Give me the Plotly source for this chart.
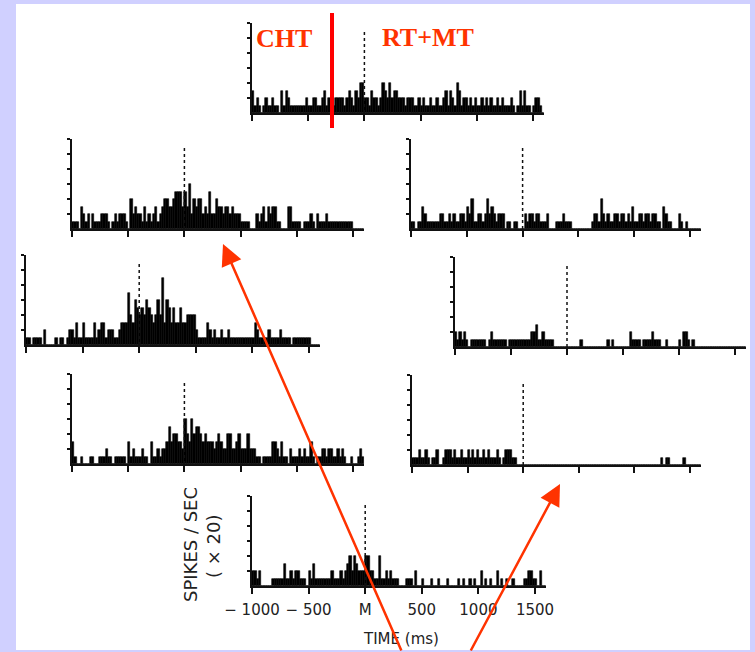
import plotly.graph_objects as go

# ---------------- data ----------------
BIN_WIDTH = 20  # ms
TIME_BINS = list(range(-1000, 1600, BIN_WIDTH))  # bin starts, 130 bins
X_TICKS = [-1000, -500, 0, 500, 1000, 1500]
X_TICK_TEXT = ["\u2212 1000", "\u2212 500", "M", "500", "1000", "1500"]
Y_TICKS = [1, 2, 3, 4, 5, 6]

# spikes/sec (x 20), one list per histogram
top_center = [
    1.5, 0.5, 1, 0.5, 0, 0.5, 1, 0.5, 0.5, 1,
    0.5, 0.5, 0, 1.5, 0.5, 1.5, 1, 0.5, 0.5, 0.5,
    0.5, 0.5, 0.5, 0.5, 1, 0.5, 0.5, 1, 1, 0.5,
    0.5, 1, 1.5, 0.5, 1, 1, 0.5, 1, 1, 1,
    1, 0.5, 1, 1.5, 1, 0.5, 1.5, 1, 2, 2,
    1, 1, 0.5, 1.5, 1, 1, 0.5, 1, 2, 1.5,
    1, 2, 1, 1.5, 1.5, 1, 1, 1, 0.5, 1,
    1, 1, 0.5, 0.5, 1, 0.5, 1, 0.5, 0.5, 1,
    0.5, 0.5, 1, 0.5, 0.5, 1, 1.5, 0.5, 1.5, 1,
    0.5, 2, 1.5, 0.5, 1, 1, 0.5, 1, 0.5, 1,
    0.5, 0.5, 1, 0.5, 1, 0.5, 1, 0.5, 0.5, 1,
    0.5, 1, 0.5, 0.5, 0.5, 1, 0.5, 0, 0.5, 1.5,
    0.5, 1.5, 0.5, 0.5, 0, 0.5, 1, 1, 0.5, 0,
]
left_row1 = [
    0.5, 0.5, 0.5, 0, 1.5, 1, 0.5, 1, 0, 1,
    0.5, 0.5, 0.5, 1, 1, 1, 0.5, 0, 0.5, 1,
    0.5, 1, 1, 1, 0.5, 0, 2, 1, 1.5, 1,
    1, 0.5, 1.5, 0.5, 1, 0.5, 1, 1.5, 0.5, 1,
    1.5, 2, 2, 1.5, 1.5, 2, 2.5, 2.5, 2.5, 1.5,
    2.5, 1.5, 3, 1, 2, 1.5, 2, 2, 1, 1.5,
    1, 2.5, 1, 1, 2, 1.5, 1.5, 1, 1.5, 1.5,
    1, 1.5, 1, 1, 1, 0.5, 0.5, 0.5, 0.5, 0,
    0, 0, 1, 0.5, 1, 1.5, 0.5, 1.5, 1, 1.5,
    1.5, 0.5, 0.5, 0, 0, 0, 1.5, 1.5, 0.5, 0.5,
    0.5, 0.5, 0, 0.5, 0.5, 0.5, 1, 0.5, 0, 1,
    0.5, 0.5, 0.5, 1, 0.5, 0.5, 0.5, 0.5, 0.5, 0.5,
    0.5, 0.5, 0.5, 0.5, 0.5, 0, 0, 0, 0, 0,
]
right_row1 = [
    0.5, 0.5, 0, 0.5, 0.5, 1.5, 1, 0.5, 0.5, 0.5,
    0.5, 0.5, 0.5, 1, 1, 0.5, 0.5, 1, 0.5, 1,
    0.5, 0.5, 1, 1, 0.5, 1.5, 1, 2, 0.5, 0.5,
    1, 1, 0.5, 1, 2, 1, 1.5, 1, 0.5, 1,
    1, 1, 0, 0.5, 0.5, 0, 0.5, 0.5, 0, 0,
    0, 1, 0.5, 1, 1, 0.5, 1, 1, 0.5, 0.5,
    0.5, 1, 0, 0, 0, 0.5, 0.5, 0.5, 1, 0.5,
    0.5, 0.5, 0, 0, 0, 0, 0, 0, 0, 0,
    0, 0.5, 1, 1, 0.5, 2, 1, 0.5, 1, 0.5,
    0.5, 1, 1, 0.5, 1, 1, 0.5, 1, 0.5, 1.5,
    0.5, 0.5, 1, 1, 0.5, 1, 1, 0.5, 1, 1,
    0.5, 0.5, 0, 1.5, 1, 0.5, 0.5, 0, 0, 0,
    1, 0.5, 0, 0.5, 0, 0, 0, 0, 0, 0,
]
left_row2 = [
    0.5, 0.5, 0, 0.5, 0.5, 0.5, 0.5, 0, 1, 0,
    0, 0, 0, 0.5, 0, 0.5, 0.5, 0, 0.5, 1,
    1, 0.5, 1.5, 0.5, 0.5, 1.5, 0.5, 0.5, 0.5, 0.5,
    1.5, 0.5, 1, 1.5, 1.5, 0.5, 1, 1, 1, 0.5,
    0.5, 1, 1.5, 1.5, 1.5, 3.5, 2, 1.5, 3, 2.5,
    2, 2.5, 2, 3, 2.5, 2, 1.5, 2, 3, 2,
    4.5, 1.5, 3, 2.5, 1.5, 2.5, 1.5, 1.5, 2.5, 1.5,
    1.5, 2, 2, 2, 2, 1, 0.5, 0.5, 0.5, 0.5,
    1.5, 1, 0.5, 1, 0.5, 0.5, 1, 0.5, 0.5, 1,
    0.5, 0.5, 0.5, 0.5, 0.5, 0.5, 0.5, 0.5, 0.5, 0.5,
    0.5, 1.5, 1, 0.5, 0.5, 0.5, 0.5, 1, 0.5, 0.5,
    0.5, 0.5, 1, 0.5, 0.5, 0.5, 0.5, 0, 0.5, 0.5,
    0.5, 0.5, 0.5, 0.5, 0.5, 0.5, 0, 0, 0, 0,
]
right_row2 = [
    1, 0.5, 1, 0.5, 1, 0.5, 0, 0.5, 0.5, 0.5,
    0.5, 0.5, 0.5, 0.5, 0, 0.5, 1, 0.5, 0.5, 0.5,
    0.5, 0.5, 0.5, 0, 0.5, 0.5, 0.5, 0.5, 0.5, 0.5,
    0.5, 0.5, 0.5, 0.5, 1, 1, 1.5, 0.5, 0.5, 1,
    0.5, 0.5, 0.5, 0.5, 0, 0, 0, 0, 0, 0,
    0, 0, 0, 0, 0, 0, 0.5, 0, 0, 0,
    0, 0, 0, 0, 0, 0, 0, 0, 0.5, 0,
    0.5, 0, 0, 0, 0, 0, 0, 0, 1, 0.5,
    0.5, 0.5, 0.5, 0, 0.5, 0.5, 0.5, 0.5, 1, 0.5,
    0.5, 0.5, 0, 0, 0.5, 0, 0, 0, 0, 0,
    0.5, 0, 1, 1, 0.5, 0, 0.5, 0, 0, 0,
    0, 0, 0, 0, 0, 0, 0, 0, 0, 0,
    0, 0, 0, 0, 0, 0, 0, 0, 0, 0,
]
left_row3 = [
    1.5, 0.5, 0, 0, 0.5, 0, 0, 0, 0.5, 0.5,
    0, 0, 0.5, 0.5, 0.5, 1, 0.5, 0.5, 0, 0.5,
    0.5, 0.5, 0.5, 0.5, 0, 1.5, 0.5, 1, 0.5, 0.5,
    0.5, 1, 0.5, 0.5, 0, 1.5, 0.5, 0.5, 1, 0.5,
    1, 1, 1.5, 2.5, 1.5, 2, 2, 1.5, 1.5, 1,
    3, 2, 1.5, 3, 2, 2.5, 2.5, 2, 1.5, 2,
    1.5, 1.5, 1.5, 1, 1.5, 2, 1.5, 1, 1, 2,
    2, 1, 1, 1.5, 2, 1, 1, 1, 2, 1,
    1, 1, 0.5, 0.5, 0, 0.5, 0.5, 0.5, 0.5, 1.5,
    1.5, 1, 0.5, 1.5, 0.5, 0.5, 0, 1, 0.5, 0.5,
    0.5, 1, 0.5, 1, 0.5, 0.5, 1.5, 0.5, 0, 0.5,
    0.5, 1, 1, 0.5, 1, 1, 0.5, 0.5, 1, 0.5,
    1, 0.5, 0, 0, 0.5, 0, 0, 0.5, 1, 0.5,
]
right_row3 = [
    0.5, 0.5, 0.5, 1, 0.5, 0.5, 1, 0.5, 0, 0.5,
    0.5, 1, 0, 0, 0.5, 1, 1, 1, 0.5, 1,
    0.5, 0.5, 1, 0.5, 0.5, 1, 0.5, 1, 0.5, 1,
    0.5, 0.5, 1, 0.5, 1, 0.5, 0.5, 0.5, 1, 0.5,
    0, 0.5, 1, 1, 1, 0.5, 0.5, 0, 0, 0,
    0, 0, 0, 0, 0, 0, 0, 0, 0, 0,
    0, 0, 0, 0, 0, 0, 0, 0, 0, 0,
    0, 0, 0, 0, 0, 0, 0, 0, 0, 0,
    0, 0, 0, 0, 0, 0, 0, 0, 0, 0,
    0, 0, 0, 0, 0, 0, 0, 0, 0, 0,
    0, 0, 0, 0, 0, 0, 0, 0, 0, 0,
    0, 0, 0.5, 0, 0.5, 0.5, 0, 0, 0, 0,
    0, 0, 0.5, 0, 0, 0, 0, 0, 0, 0,
]
bottom_center = [
    1, 1, 0.5, 1, 0, 0, 0, 0, 0, 0.5,
    0.5, 0.5, 0.5, 0.5, 1.5, 0.5, 0.5, 1, 0.5, 1,
    1, 0.5, 0.5, 0.5, 0, 1, 0.5, 1.5, 0.5, 0.5,
    0.5, 0.5, 0.5, 0.5, 0.5, 1, 0.5, 0.5, 0.5, 1,
    0.5, 1, 1.5, 2, 1, 2, 1.5, 1, 1, 1,
    2, 2, 1, 1, 0.5, 0.5, 2, 0.5, 0.5, 1,
    0.5, 1, 0.5, 0.5, 0.5, 0, 0, 0, 0.5, 0.5,
    0.5, 0, 1, 0, 0, 0.5, 0, 0, 0, 0.5,
    0, 0, 0.5, 0, 0, 0, 0.5, 0, 0, 0,
    0, 0.5, 0, 0.5, 0, 0, 0.5, 0, 0.5, 0,
    0, 1, 0, 0.5, 0, 0.5, 0, 0, 1, 0,
    0.5, 0, 0.5, 0, 0, 0.5, 0, 0, 0, 0,
    0.5, 0.5, 1, 1, 0.5, 0.5, 0, 1, 0, 0,
]

# ---------------- layout of the panels (pixels) ----------------
W, H = 755, 652
PANELS = [  # (series, left px of -1000 ms, px per ms, baseline px)
    (top_center, 252, 0.1124, 113),
    (left_row1, 72, 0.1124, 229),
    (right_row1, 411, 0.1116, 229),
    (left_row2, 26, 0.1132, 345),
    (right_row2, 455, 0.1120, 347),
    (left_row3, 72, 0.1124, 464),
    (right_row3, 412, 0.1112, 465),
    (bottom_center, 252, 0.1132, 586),
]
X_RANGE = [-1000, 1600]
Y_RANGE = [0, 6]
UNIT_PX = 15

def px(x):
    return x / W

def py(y):
    return 1 - y / H

fig = go.Figure()
shapes = []
layout = {}
for i, (vals, x0, s, yb) in enumerate(PANELS, start=1):
    sfx = "" if i == 1 else str(i)
    fig.add_trace(go.Bar(
        x=TIME_BINS, y=vals, width=BIN_WIDTH, offset=0,
        marker=dict(color="#000000", line=dict(width=0.6, color="#000000")),
        xaxis="x" + sfx, yaxis="y" + sfx, showlegend=False, hoverinfo="skip",
    ))
    x1 = x0 + s * (X_RANGE[1] - X_RANGE[0])
    ytop = yb - UNIT_PX * (Y_RANGE[1] - Y_RANGE[0])
    last = (i == len(PANELS))
    layout["xaxis" + sfx] = dict(
        domain=[px(x0), px(x1)], range=X_RANGE, anchor="y" + sfx,
        showline=True, linecolor="#111111", linewidth=2,
        ticks="outside", ticklen=6, tickwidth=1.5, tickcolor="#111111",
        tickvals=X_TICKS, ticktext=X_TICK_TEXT, showticklabels=last,
        tickangle=0, automargin=False,
        tickfont=dict(family="DejaVu Sans", size=15, color="#222222"),
        ticklabelstandoff=3,
        showgrid=False, zeroline=False, fixedrange=True,
    )
    layout["yaxis" + sfx] = dict(
        domain=[py(yb), py(ytop)], range=Y_RANGE, anchor="x" + sfx,
        showline=True, linecolor="#111111", linewidth=1.5,
        ticks="outside", ticklen=3, tickwidth=1.5, tickcolor="#111111",
        tickvals=Y_TICKS, showticklabels=False, automargin=False,
        showgrid=False, zeroline=False, fixedrange=True,
    )
    # dotted movement-onset marker at M
    shapes.append(dict(
        type="line", xref="x" + sfx, yref="y" + sfx, x0=0, x1=0, y0=0, y1=5.5,
        line=dict(color="#111111", width=1.5, dash="dot"),
    ))

# white slide area on lavender border
shapes.insert(0, dict(type="rect", xref="paper", yref="paper", layer="below",
                      x0=px(16), x1=px(750), y0=py(650), y1=py(4),
                      fillcolor="white", line=dict(width=0)))
# red separator line
shapes.append(dict(type="line", xref="paper", yref="paper",
                   x0=px(332), x1=px(332), y0=py(128), y1=py(13),
                   line=dict(color="#ff0000", width=4)))

red = "#ff3300"
C = dict(xref="paper", yref="paper", xanchor="center", yanchor="middle")
annotations = [
    dict(text="<b>CHT</b>", x=px(284), y=py(39), showarrow=False,
         font=dict(family="Liberation Serif", size=26, color=red), **C),
    dict(text="<b>RT+MT</b>", x=px(428), y=py(37), showarrow=False,
         font=dict(family="Liberation Serif", size=26, color=red), **C),
    dict(text="TIME (ms)", x=px(401), y=py(639), showarrow=False,
         font=dict(family="DejaVu Sans", size=15, color="#222222"), **C),
    dict(text="SPIKES / SEC", x=px(190), y=py(545), textangle=-90, showarrow=False,
         font=dict(family="DejaVu Sans", size=18, color="#222222"), **C),
    dict(text="( \u00d7 20)", x=px(213), y=py(547), textangle=-90, showarrow=False,
         font=dict(family="DejaVu Sans", size=18, color="#222222"), **C),
    dict(text="", x=px(223), y=py(244), showarrow=True, ax=179, ay=411,
         arrowhead=2, arrowsize=1.7, arrowwidth=2.5, arrowcolor=red, standoff=0, **C),
    dict(text="", x=px(560), y=py(484), showarrow=True, ax=-90, ay=171,
         arrowhead=2, arrowsize=1.7, arrowwidth=2.5, arrowcolor=red, standoff=0, **C),
]

fig.update_layout(
    width=W, height=H, margin=dict(l=0, r=0, t=0, b=0, autoexpand=False),
    paper_bgcolor="#d0d0ff", plot_bgcolor="rgba(0,0,0,0)",
    bargap=0, showlegend=False, shapes=shapes, annotations=annotations,
    **layout,
)
fig.write_html("out.html")
